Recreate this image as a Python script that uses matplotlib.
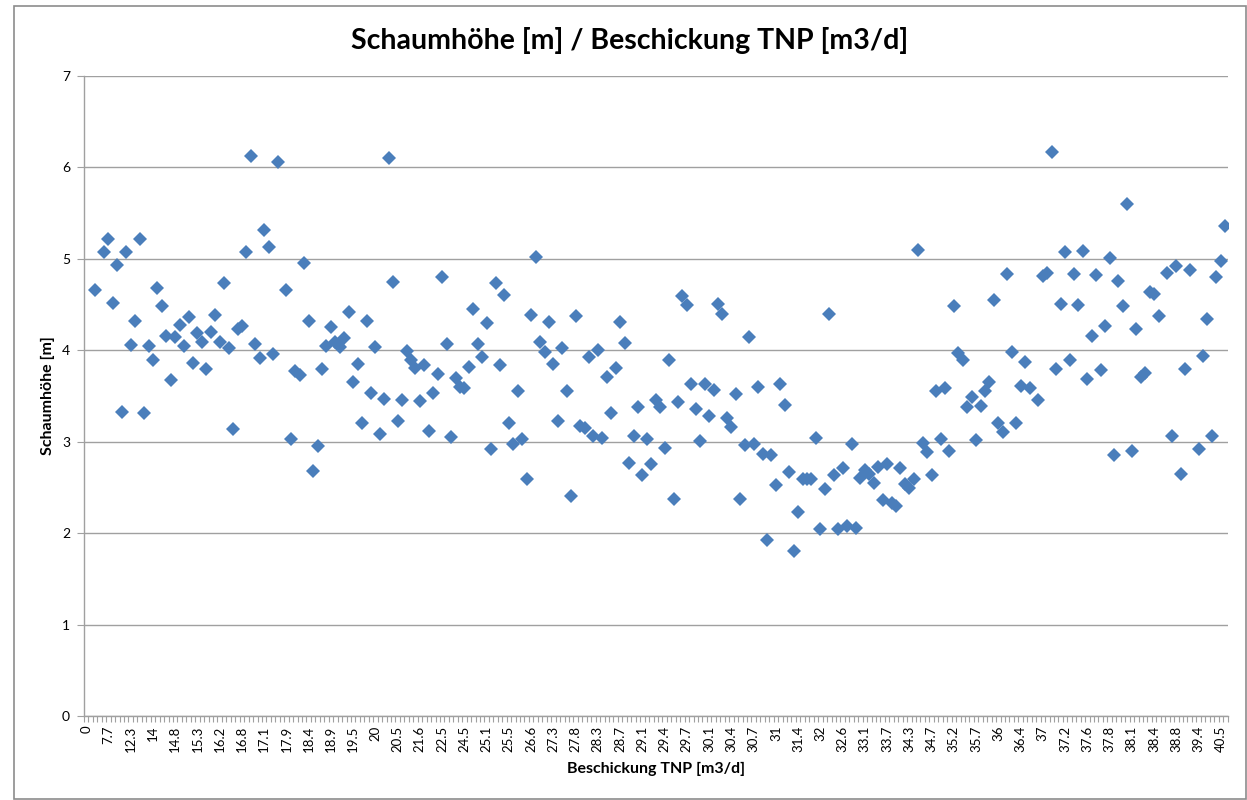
import numpy as np
import matplotlib
matplotlib.use("Agg")
import matplotlib.pyplot as plt
from matplotlib.patches import Rectangle

plt.rcParams['font.family'] = ['Lato', 'DejaVu Sans']

nan = np.nan
# Schaumhöhe [m], one value per category (blank rows = nan)
schaumhoehe = [
    nan, nan, 4.66, nan, 5.07, 5.22, 4.52, 4.93, 3.32, 5.07,
    4.06, 4.32, 5.22, 3.31, 4.05, 3.89, 4.68, 4.48, 4.16, 3.68,
    4.14, 4.28, 4.05, 4.36, 3.86, 4.19, 4.09, 3.79, 4.20, 4.39,
    4.09, 4.74, 4.02, 3.14, 4.23, 4.27, 5.08, 6.12, 4.07, 3.92,
    5.32, 5.13, 3.96, 6.06, nan, 4.66, 3.03, 3.77, 3.73, 4.95,
    4.32, 2.68, 2.95, 3.80, 4.05, 4.26, 4.09, 4.04, 4.13, 4.42,
    3.65, 3.85, 3.20, 4.32, 3.53, 4.04, 3.08, 3.47, 6.10, 4.75,
    3.23, 3.46, 3.99, 3.89, 3.81, 3.45, 3.84, 3.12, 3.53, 3.74,
    4.80, 4.07, 3.05, 3.70, 3.60, 3.59, 3.82, 4.45, 4.07, 3.93,
    4.30, 2.92, 4.74, 3.84, 4.60, 3.20, 2.98, 3.56, 3.03, 2.59,
    4.39, 5.02, 4.09, 3.98, 4.31, 3.85, 3.23, 4.02, 3.55, 2.41,
    4.37, 3.17, 3.15, 3.93, 3.06, 4.00, 3.04, 3.71, 3.31, 3.81,
    4.31, 4.08, 2.77, 3.06, 3.38, 2.64, 3.03, 2.76, 3.46, 3.38,
    2.93, 3.89, 2.37, 3.43, 4.59, 4.50, 3.63, 3.36, 3.01, 3.63,
    3.28, 3.57, 4.51, 4.40, 3.26, 3.16, 3.52, 2.37, 2.96, 4.14,
    2.98, 3.60, 2.87, 1.92, 2.85, 2.53, 3.63, 3.40, 2.67, 1.81,
    2.23, 2.59, 2.59, 2.59, 3.04, 2.05, 2.48, 4.40, 2.64, 2.04,
    2.71, 2.08, 2.98, 2.06, 2.60, 2.69, 2.65, 2.55, 2.72, 2.36,
    2.76, 2.33, 2.30, 2.71, 2.54, 2.49, 2.59, 5.10, 2.99, 2.89,
    2.64, 3.55, 3.03, 3.59, 2.90, 4.48, 3.97, 3.89, 3.38, 3.49,
    3.02, 3.39, 3.56, 3.65, 4.55, 3.21, 3.11, 4.83, 3.98, 3.21,
    3.61, 3.87, 3.59, nan, 3.46, 4.81, 4.84, 6.17, 3.79, 4.51,
    5.07, 3.89, 4.83, 4.49, 5.09, 3.69, 4.16, 4.82, 3.78, 4.27,
    5.01, 2.86, 4.76, 4.48, 5.60, 2.90, 4.23, 3.71, 3.75, 4.64,
    4.62, 4.37, nan, 4.85, 3.06, 4.92, 2.65, 3.79, 4.88, nan,
    2.92, 3.94, 4.34, 3.06, 4.80, 4.98, 5.36,
]

# Beschickung TNP [m3/d] labels shown on every 5th category
x_labels = [
    "0", "7.7", "12.3", "14", "14.8", "15.3", "16.2", "16.8", "17.1", "17.9",
    "18.4", "18.9", "19.5", "20", "20.5", "21.6", "22.5", "24.5", "25.1", "25.5",
    "26.6", "27.3", "27.8", "28.3", "28.7", "29.1", "29.4", "29.7", "30.1", "30.4",
    "30.7", "31", "31.4", "32", "32.6", "33.1", "33.7", "34.3", "34.7", "35.2",
    "35.7", "36", "36.4", "37", "37.2", "37.6", "37.8", "38.1", "38.4", "38.8",
    "39.4", "40.5",
]

n = len(schaumhoehe)
x = np.arange(n)

fig = plt.figure(figsize=(12.47, 8), dpi=100)
ax = fig.add_axes([84 / 1247, 84 / 800, 1143.5 / 1247, 640 / 800])

ax.plot(x, schaumhoehe, linestyle='none', marker='D', markersize=7.2,
        markerfacecolor='#4A7EBB', markeredgewidth=0, zorder=3)

grid_c = '#A0A0A0'
ax.set_xlim(-0.5, n - 0.5)
ax.set_ylim(0, 7)
ax.set_yticks(range(8))
ax.yaxis.grid(True, color=grid_c, linewidth=1)
ax.set_axisbelow(True)

ax.set_xticks(np.arange(0, n, 5))
ax.set_xticklabels(x_labels, rotation=90)
ax.set_xticks(np.arange(-0.5, n, 1), minor=True)
ax.tick_params(axis='x', which='major', length=0, pad=7, labelsize=9.5)
ax.tick_params(axis='x', which='minor', length=4, color=grid_c, width=0.8)
ax.tick_params(axis='y', length=5, color=grid_c, labelsize=10, pad=5)

for s in ('top', 'right'):
    ax.spines[s].set_visible(False)
for s in ('left', 'bottom'):
    ax.spines[s].set_color(grid_c)
    ax.spines[s].set_linewidth(1)

# chart title is centred on the whole chart area, not the plot area
fig.text(630 / 1247, 1 - 40 / 800, "Schaumhöhe [m] / Beschickung TNP [m3/d]",
         fontsize=20.5, fontweight='bold', ha='center', va='center')
ax.set_ylabel("Schaumhöhe [m]", fontsize=11.5, fontweight='bold', labelpad=5)
ax.set_xlabel("Beschickung TNP [m3/d]", fontsize=11.5, fontweight='bold', labelpad=7)

fig.patches.append(Rectangle((14 / 1247, 1.5 / 800), 1232 / 1247, 793 / 800,
                             transform=fig.transFigure, fill=False,
                             edgecolor='#8C8C8C', linewidth=1.2))

fig.savefig("out.png", dpi=100)
